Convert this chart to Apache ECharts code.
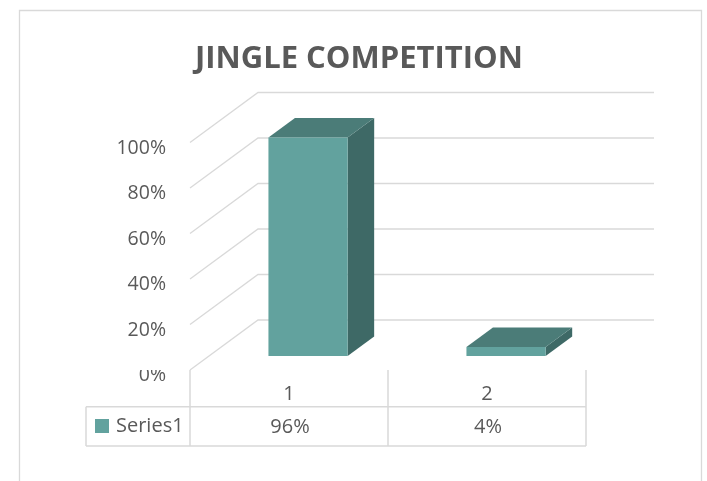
<!DOCTYPE html>
<html>
<head>
<meta charset="utf-8">
<script src="https://cdn.jsdelivr.net/npm/echarts@6/dist/echarts.min.js"></script>
<style>html,body{margin:0;padding:0;background:#fff;}#c{width:707px;height:481px;}</style>
</head>
<body>
<div id="c"></div>
<script>
const titleText = 'JINGLE COMPETITION';
const categories = ['1', '2'];
const seriesName = 'Series1';
const values = [0.96, 0.04];
const yTicks = [0, 0.2, 0.4, 0.6, 0.8, 1.0];

const FONT = 'Open Sans';
const TXT = '#595959';
const GRID = '#D9D9D9';
const DX = 68, DY = -50;           // depth of the 3D floor
const FRONT = 0.28, DEPTH = 0.39;  // bar placement within depth
const FACE = '#62A29E', TOP = '#4B7C78', SIDE = '#3E6966';
const pct = v => Math.round(v * 100) + '%';

const chart = echarts.init(document.getElementById('c'), null, {renderer: 'canvas'});

chart.setOption({
  animation: false,
  backgroundColor: '#fff',
  title: {
    text: titleText, left: 195, top: 44, padding: 0,
    textStyle: {fontFamily: FONT, fontWeight: 'bold', fontSize: 31, color: TXT}
  },
  legend: {
    data: [seriesName], left: 95, top: 416, padding: 0, icon: 'rect', itemWidth: 14, itemHeight: 14,
    selectedMode: false,
    textStyle: {fontFamily: FONT, fontSize: 20, color: TXT, padding: [0, 0, 0, 2]}
  },
  grid: {left: 190, right: 121, top: 142.5, bottom: 111, containLabel: false},
  xAxis: {
    type: 'category', data: categories,
    axisLine: {show: false}, axisTick: {show: false}, splitLine: {show: false},
    axisLabel: {margin: 24, verticalAlign: 'middle', fontFamily: FONT, fontSize: 20, color: TXT}
  },
  yAxis: {
    type: 'value', min: 0, max: 1, interval: 0.2,
    axisLine: {show: false}, axisTick: {show: false}, splitLine: {show: false},
    axisLabel: {formatter: pct, margin: 24, fontFamily: FONT, fontSize: 19.5, color: TXT,
      verticalAlign: 'top', lineHeight: 11}
  },
  graphic: [
    {type: 'rect', silent: true, shape: {x: 19.5, y: 10.5, width: 682, height: 490},
     style: {fill: 'none', stroke: GRID, lineWidth: 1.3}},
    {type: 'line', silent: true, shape: {x1: 86, y1: 406.7, x2: 586, y2: 406.7}, style: {stroke: GRID, lineWidth: 1.5}},
    {type: 'line', silent: true, shape: {x1: 86, y1: 446, x2: 586, y2: 446}, style: {stroke: GRID, lineWidth: 1.5}},
    {type: 'line', silent: true, shape: {x1: 86, y1: 406.7, x2: 86, y2: 446}, style: {stroke: GRID, lineWidth: 1.5}},
    // floor edge hides the top of the 0% label, as in the reference
    {type: 'rect', silent: true, z: 100, shape: {x: 130, y: 358, width: 56, height: 12}, style: {fill: '#fff'}}
  ],
  series: [
    {
      type: 'custom', name: 'walls', silent: true, z: 1,
      data: yTicks.map(v => [0, v]),
      renderItem: function (params, api) {
        const cs = params.coordSys;
        const p = api.coord([0, api.value(1)]);
        const x0 = cs.x, w = cs.width;
        return {
          type: 'polyline',
          shape: {points: [[x0, p[1]], [x0 + DX, p[1] + DY], [x0 + w + DX, p[1] + DY]]},
          style: {stroke: GRID, lineWidth: 1.3, fill: 'none'}
        };
      }
    },
    {
      type: 'custom', name: seriesName, z: 3,
      itemStyle: {color: FACE},
      data: values.map((v, i) => [i, v]),
      renderItem: function (params, api) {
        const i = api.value(0), v = api.value(1);
        const base = api.coord([i, 0]);
        const top = api.coord([i, v]);
        const cw = api.size([1, 0])[0];
        const bw = cw * 0.4;
        const fx = FRONT * DX, fy = FRONT * DY, dx = DEPTH * DX, dy = DEPTH * DY;
        const x1 = base[0] - bw / 2 + fx, x2 = x1 + bw;
        const yb = base[1] + fy, yt = top[1] + fy;
        const children = [
          {type: 'polygon', shape: {points: [[x2, yt], [x2 + dx, yt + dy], [x2 + dx, yb + dy], [x2, yb]]}, style: {fill: SIDE}},
          {type: 'polygon', shape: {points: [[x1, yt], [x2, yt], [x2 + dx, yt + dy], [x1 + dx, yt + dy]]}, style: {fill: TOP}},
          {type: 'rect', shape: {x: x1, y: yt, width: bw, height: yb - yt}, style: {fill: FACE}},
          {type: 'text', style: {text: pct(v), x: base[0] + 1, y: base[1] + 57, align: 'center', verticalAlign: 'middle',
            fontFamily: FONT, fontSize: 20, fill: TXT}},
          {type: 'line', shape: {x1: base[0] + cw / 2, y1: base[1], x2: base[0] + cw / 2, y2: base[1] + 76}, style: {stroke: GRID, lineWidth: 1.5}}
        ];
        if (i === 0) {
          children.push({type: 'line', shape: {x1: base[0] - cw / 2, y1: base[1], x2: base[0] - cw / 2, y2: base[1] + 76}, style: {stroke: GRID, lineWidth: 1.5}});
        }
        return {type: 'group', children: children};
      }
    }
  ]
});
</script>
</body>
</html>
